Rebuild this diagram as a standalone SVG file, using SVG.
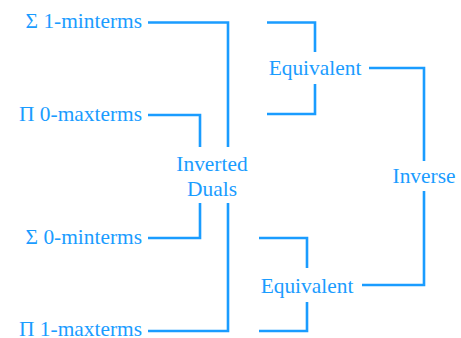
<svg xmlns="http://www.w3.org/2000/svg" width="461" height="338" viewBox="0 0 461 338">
<style>
  .t { font-family: "Liberation Serif", "Times New Roman", serif; font-size: 21.4px; fill: #1a9cff; }
  .e { text-anchor: end; }
  .m { text-anchor: middle; }
  .c { fill: none; stroke: #1a9cff; stroke-width: 2.6; stroke-linejoin: miter; stroke-linecap: butt; }
</style>
<rect width="461" height="338" fill="#ffffff"/>
<g id="connectors">
  <path class="c" d="M148 22.5 H228 V147"/>
  <path class="c" d="M148 115 H200 V147"/>
  <path class="c" d="M148 238 H200 V203"/>
  <path class="c" d="M148 331 H228 V203"/>
  <path class="c" d="M267 22.5 H315 V52"/>
  <path class="c" d="M267 114 H315 V84"/>
  <path class="c" d="M259 238 H307 V268"/>
  <path class="c" d="M259 331 H307 V302"/>
  <path class="c" d="M369 68 H424 V161"/>
  <path class="c" d="M362 285 H424 V191"/>
</g>
<g id="sum1"><text class="t e" x="142" y="28">Σ 1-minterms</text></g>
<g id="prod0"><text class="t e" x="142" y="121">Π 0-maxterms</text></g>
<g id="sum0"><text class="t e" x="142" y="244">Σ 0-minterms</text></g>
<g id="prod1"><text class="t e" x="142" y="335.5">Π 1-maxterms</text></g>
<g id="inverted-duals"><text class="t m" x="212" y="171">Inverted</text><text class="t m" x="212" y="196">Duals</text></g>
<g id="equiv-top"><text class="t m" x="315" y="75">Equivalent</text></g>
<g id="equiv-bottom"><text class="t m" x="307" y="293">Equivalent</text></g>
<g id="inverse"><text class="t m" x="424" y="183">Inverse</text></g>
</svg>
